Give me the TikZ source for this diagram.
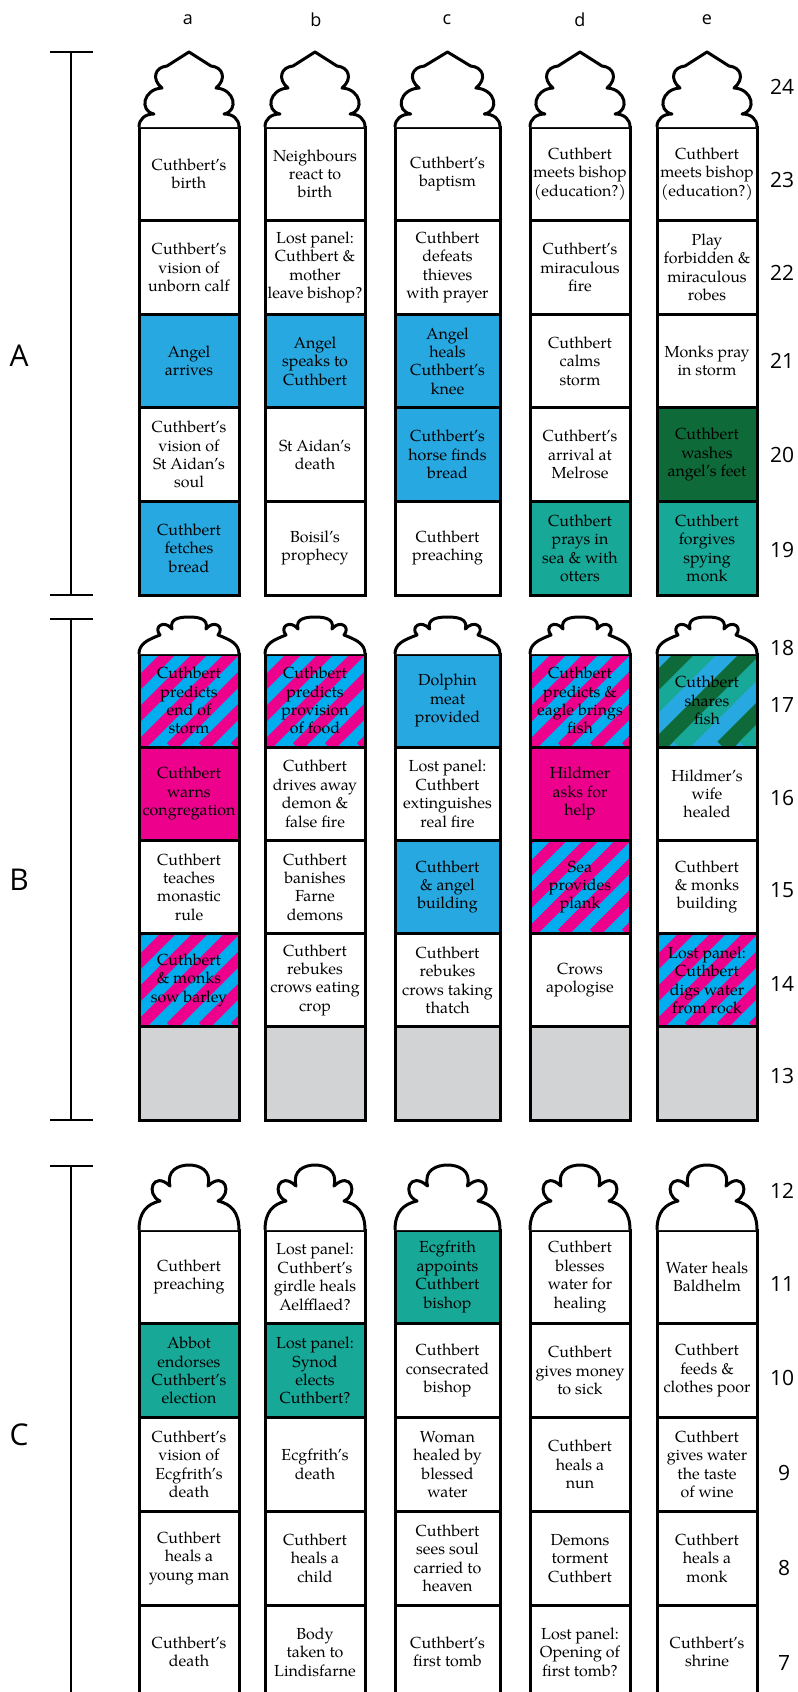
\documentclass[tikz,border=0pt]{standalone}
\usepackage{fontspec}
\setmainfont{TeX Gyre Pagella}
\newfontfamily\labfont{Open Sans}
\definecolor{cblue}{HTML}{27A8E0}
\definecolor{sblue}{HTML}{00AEEF}
\definecolor{cmag}{HTML}{EC008C}
\definecolor{cteal}{HTML}{17A897}
\definecolor{cdkgreen}{HTML}{0E6B39}
\definecolor{cgray}{HTML}{D1D3D4}
\tikzset{
  panel/.style={draw=black, line width=3bp, inner sep=0pt, align=center,
    font=\fontsize{16bp}{18.4bp}\selectfont, line join=miter},
  wn/.style={minimum width=100bp},
  ww/.style={minimum width=105bp},
  hA/.style={minimum height=93.6bp},
  hB/.style={minimum height=93.2bp},
  hC/.style={minimum height=93.8bp},
  blue/.style={fill=cblue},
  mag/.style={fill=cmag},
  teal/.style={fill=cteal},
  dkg/.style={fill=cdkgreen},
  grey/.style={fill=cgray},
  pbstripes/.style={path picture={
    \fill[sblue] (path picture bounding box.south west) rectangle (path picture bounding box.north east);
    \foreach \k in {-4,...,4}
      \draw[cmag, line width=11.3bp] ([xshift={\k*32bp}]path picture bounding box.south west) -- ++(140bp,140bp);
  }},
  gstripes/.style={path picture={
    \fill[cblue] (path picture bounding box.south west) rectangle (path picture bounding box.north east);
    \foreach \k in {-3,...,3}{
      \draw[cdkgreen, line width=15.6bp] ([xshift={\k*66bp}]path picture bounding box.south west) -- ++(140bp,140bp);
      \draw[cteal, line width=15.6bp] ([xshift={\k*66bp+22bp}]path picture bounding box.south west) -- ++(140bp,140bp);
    }
  }},
  archline/.style={draw=black, fill=white, line width=3bp, line join=round},
  bar/.style={draw=black, line width=2.6bp},
  collab/.style={font=\labfont\fontsize{18bp}{18bp}\selectfont},
  numlab/.style={font=\labfont\fontsize{21bp}{21bp}\selectfont},
  seclab/.style={font=\labfont\fontsize{30bp}{30bp}\selectfont},
}
\newcommand\archA[2]{%
  \begin{scope}[shift={(#1,127)}, xscale=#2]
    \draw[archline] (0,0) .. controls (0,-8) and (6,-13) .. (15,-13)
      .. controls (0,-16) and (4,-38) .. (23,-39)
      .. controls (12,-48) and (16,-60) .. (28,-61) -- (50,-75) -- (72,-61)
      .. controls (84,-60) and (88,-48) .. (77,-39)
      .. controls (96,-38) and (100,-16) .. (85,-13)
      .. controls (94,-13) and (100,-8) .. (100,0);
  \end{scope}}
\newcommand\archB[2]{%
  \begin{scope}[shift={(#1,654)}, xscale=#2]
    \draw[archline] (0,0) .. controls (0,-10) and (8,-14) .. (21,-19)
      .. controls (14,-27) and (25,-35) .. (33,-25)
      .. controls (30,-36) and (42,-37) .. (50,-37)
      .. controls (58,-37) and (70,-36) .. (67,-25)
      .. controls (75,-35) and (86,-27) .. (79,-19)
      .. controls (92,-14) and (100,-10) .. (100,0);
  \end{scope}}
\newcommand\archC[2]{%
  \begin{scope}[shift={(#1,1230)}, xscale=#2]
    \draw[archline] (0,0) .. controls (0,-18) and (8,-26) .. (21,-29)
      .. controls (6,-36) and (14,-60) .. (31,-44)
      .. controls (27,-60) and (40,-65) .. (50,-65)
      .. controls (60,-65) and (73,-60) .. (69,-44)
      .. controls (86,-60) and (94,-36) .. (79,-29)
      .. controls (92,-26) and (100,-18) .. (100,0);
  \end{scope}}
\begin{document}
\begin{tikzpicture}[x=1bp, y=-1bp]
\useasboundingbox (0,0) rectangle (798,1692);
\fill[white] (0,0) rectangle (798,1692);

% column letters
\node[collab] (la) at (188,20) {a};
\node[collab] (lb) at (316,20) {b};
\node[collab] (lc) at (447,20) {c};
\node[collab] (ld) at (580,20) {d};
\node[collab] (le) at (707,20) {e};

% section bars
\draw[bar] (50,52) -- (93,52);
\draw[bar] (71,52) -- (71,595);
\draw[bar] (50,595) -- (93,595);
\draw[bar] (50,619) -- (93,619);
\draw[bar] (71,619) -- (71,1120);
\draw[bar] (50,1120) -- (93,1120);
\draw[bar] (50,1166) -- (93,1166);
\draw[bar] (71,1166) -- (71,1700);
\node[seclab] (sA) at (19,356) {A};
\node[seclab] (sB) at (19,880) {B};
\node[seclab] (sC) at (19,1435) {C};

% ===== Section A =====
\node[panel,wn,hA] (a23) at (189,173.8) {Cuthbert’s\\birth};
\node[panel,wn,hA] (b23) at (315,173.8) {Neighbours\\react to\\birth};
\node[panel,ww,hA] (c23) at (447.5,173.8) {Cuthbert’s\\baptism};
\node[panel,wn,hA] (d23) at (580,173.8) {Cuthbert\\meets bishop\\(education?)};
\node[panel,wn,hA] (e23) at (707,173.8) {Cuthbert\\meets bishop\\(education?)};

\node[panel,wn,hA] (a22) at (189,267.4) {Cuthbert’s\\vision of\\unborn calf};
\node[panel,wn,hA] (b22) at (315,267.4) {Lost panel:\\Cuthbert \&\\mother\\leave bishop?};
\node[panel,ww,hA] (c22) at (447.5,267.4) {Cuthbert\\defeats\\thieves\\with prayer};
\node[panel,wn,hA] (d22) at (580,267.4) {Cuthbert’s\\miraculous\\fire};
\node[panel,wn,hA] (e22) at (707,267.4) {Play\\forbidden \&\\miraculous\\robes};

\node[panel,wn,hA,blue] (a21) at (189,361) {Angel\\arrives};
\node[panel,wn,hA,blue] (b21) at (315,361) {Angel\\speaks to\\Cuthbert};
\node[panel,ww,hA,blue] (c21) at (447.5,361) {Angel\\heals\\Cuthbert’s\\knee};
\node[panel,wn,hA] (d21) at (580,361) {Cuthbert\\calms\\storm};
\node[panel,wn,hA] (e21) at (707,361) {Monks pray\\in storm};

\node[panel,wn,hA] (a20) at (189,454.6) {Cuthbert’s\\vision of\\St Aidan’s\\soul};
\node[panel,wn,hA] (b20) at (315,454.6) {St Aidan’s\\death};
\node[panel,ww,hA,blue] (c20) at (447.5,454.6) {Cuthbert’s\\horse finds\\bread};
\node[panel,wn,hA] (d20) at (580,454.6) {Cuthbert’s\\arrival at\\Melrose};
\node[panel,wn,hA,dkg] (e20) at (707,454.6) {Cuthbert\\washes\\angel’s feet};

\node[panel,wn,hA,blue] (a19) at (189,548.2) {Cuthbert\\fetches\\bread};
\node[panel,wn,hA] (b19) at (315,548.2) {Boisil’s\\prophecy};
\node[panel,ww,hA] (c19) at (447.5,548.2) {Cuthbert\\preaching};
\node[panel,wn,hA,teal] (d19) at (580,548.2) {Cuthbert\\prays in\\sea \& with\\otters};
\node[panel,wn,hA,teal] (e19) at (707,548.2) {Cuthbert\\forgives\\spying\\monk};

\archA{139}{1}
\archA{265}{1}
\archA{395}{1.05}
\archA{530}{1}
\archA{657}{1}

% ===== Section B =====
\node[panel,wn,hB,pbstripes] (a17) at (189,700.6) {Cuthbert\\predicts\\end of\\storm};
\node[panel,wn,hB,pbstripes] (b17) at (315,700.6) {Cuthbert\\predicts\\provision\\of food};
\node[panel,ww,hB,blue] (c17) at (447.5,700.6) {Dolphin\\meat\\provided};
\node[panel,wn,hB,pbstripes] (d17) at (580,700.6) {Cuthbert\\predicts \&\\eagle brings\\fish};
\node[panel,wn,hB,gstripes] (e17) at (707,700.6) {Cuthbert\\shares\\fish};

\node[panel,wn,hB,mag] (a16) at (189,793.8) {Cuthbert\\warns\\congregation};
\node[panel,wn,hB] (b16) at (315,793.8) {Cuthbert\\drives away\\demon \&\\false fire};
\node[panel,ww,hB] (c16) at (447.5,793.8) {Lost panel:\\Cuthbert\\extinguishes\\real fire};
\node[panel,wn,hB,mag] (d16) at (580,793.8) {Hildmer\\asks for\\help};
\node[panel,wn,hB] (e16) at (707,793.8) {Hildmer’s\\wife\\healed};

\node[panel,wn,hB] (a15) at (189,887) {Cuthbert\\teaches\\monastic\\rule};
\node[panel,wn,hB] (b15) at (315,887) {Cuthbert\\banishes\\Farne\\demons};
\node[panel,ww,hB,blue] (c15) at (447.5,887) {Cuthbert\\\& angel\\building};
\node[panel,wn,hB,pbstripes] (d15) at (580,887) {Sea\\provides\\plank};
\node[panel,wn,hB] (e15) at (707,887) {Cuthbert\\\& monks\\building};

\node[panel,wn,hB,pbstripes] (a14) at (189,980.2) {Cuthbert\\\& monks\\sow barley};
\node[panel,wn,hB] (b14) at (315,980.2) {Cuthbert\\rebukes\\crows eating\\crop};
\node[panel,ww,hB] (c14) at (447.5,980.2) {Cuthbert\\rebukes\\crows taking\\thatch};
\node[panel,wn,hB] (d14) at (580,980.2) {Crows\\apologise};
\node[panel,wn,hB,pbstripes] (e14) at (707,980.2) {Lost panel:\\Cuthbert\\digs water\\from rock};

\node[panel,wn,hB,grey] (a13) at (189,1073.4) {};
\node[panel,wn,hB,grey] (b13) at (315,1073.4) {};
\node[panel,ww,hB,grey] (c13) at (447.5,1073.4) {};
\node[panel,wn,hB,grey] (d13) at (580,1073.4) {};
\node[panel,wn,hB,grey] (e13) at (707,1073.4) {};

\archB{139}{1}
\archB{265}{1}
\archB{395}{1.05}
\archB{530}{1}
\archB{657}{1}

% ===== Section C =====
\node[panel,wn,hC] (a11) at (189,1276.9) {Cuthbert\\preaching};
\node[panel,wn,hC] (b11) at (315,1276.9) {Lost panel:\\Cuthbert’s\\girdle heals\\Aelfflaed?};
\node[panel,ww,hC,teal] (c11) at (447.5,1276.9) {Ecgfrith\\appoints\\Cuthbert\\bishop};
\node[panel,wn,hC] (d11) at (580,1276.9) {Cuthbert\\blesses\\water for\\healing};
\node[panel,wn,hC] (e11) at (707,1276.9) {Water heals\\Baldhelm};

\node[panel,wn,hC,teal] (a10) at (189,1370.7) {Abbot\\endorses\\Cuthbert’s\\election};
\node[panel,wn,hC,teal] (b10) at (315,1370.7) {Lost panel:\\Synod\\elects\\Cuthbert?};
\node[panel,ww,hC] (c10) at (447.5,1370.7) {Cuthbert\\consecrated\\bishop};
\node[panel,wn,hC] (d10) at (580,1370.7) {Cuthbert\\gives money\\to sick};
\node[panel,wn,hC] (e10) at (707,1370.7) {Cuthbert\\feeds \&\\clothes poor};

\node[panel,wn,hC] (a9) at (189,1464.5) {Cuthbert’s\\vision of\\Ecgfrith’s\\death};
\node[panel,wn,hC] (b9) at (315,1464.5) {Ecgfrith’s\\death};
\node[panel,ww,hC] (c9) at (447.5,1464.5) {Woman\\healed by\\blessed\\water};
\node[panel,wn,hC] (d9) at (580,1464.5) {Cuthbert\\heals a\\nun};
\node[panel,wn,hC] (e9) at (707,1464.5) {Cuthbert\\gives water\\the taste\\of wine};

\node[panel,wn,hC] (a8) at (189,1558.3) {Cuthbert\\heals a\\young man};
\node[panel,wn,hC] (b8) at (315,1558.3) {Cuthbert\\heals a\\child};
\node[panel,ww,hC] (c8) at (447.5,1558.3) {Cuthbert\\sees soul\\carried to\\heaven};
\node[panel,wn,hC] (d8) at (580,1558.3) {Demons\\torment\\Cuthbert};
\node[panel,wn,hC] (e8) at (707,1558.3) {Cuthbert\\heals a\\monk};

\node[panel,wn,hC] (a7) at (189,1652.1) {Cuthbert’s\\death};
\node[panel,wn,hC] (b7) at (315,1652.1) {Body\\taken to\\Lindisfarne};
\node[panel,ww,hC] (c7) at (447.5,1652.1) {Cuthbert’s\\first tomb};
\node[panel,wn,hC] (d7) at (580,1652.1) {Lost panel:\\Opening of\\first tomb?};
\node[panel,wn,hC] (e7) at (707,1652.1) {Cuthbert’s\\shrine};

\archC{139}{1}
\archC{265}{1}
\archC{395}{1.05}
\archC{530}{1}
\archC{657}{1}

% row numbers
\node[numlab] (n24) at (782,87) {24};
\node[numlab] (n23) at (782,180) {23};
\node[numlab] (n22) at (782,273) {22};
\node[numlab] (n21) at (782,361) {21};
\node[numlab] (n20) at (782,455) {20};
\node[numlab] (n19) at (782,550) {19};
\node[numlab] (n18) at (782,648) {18};
\node[numlab] (n17) at (782,705) {17};
\node[numlab] (n16) at (782,798) {16};
\node[numlab] (n15) at (782,890) {15};
\node[numlab] (n14) at (782,984) {14};
\node[numlab] (n13) at (782,1076) {13};
\node[numlab] (n12) at (782,1191) {12};
\node[numlab] (n11) at (782,1284) {11};
\node[numlab] (n10) at (782,1378) {10};
\node[numlab] (n9) at (784,1473) {9};
\node[numlab] (n8) at (784,1568) {8};
\node[numlab] (n7) at (784,1663) {7};
\end{tikzpicture}
\end{document}
